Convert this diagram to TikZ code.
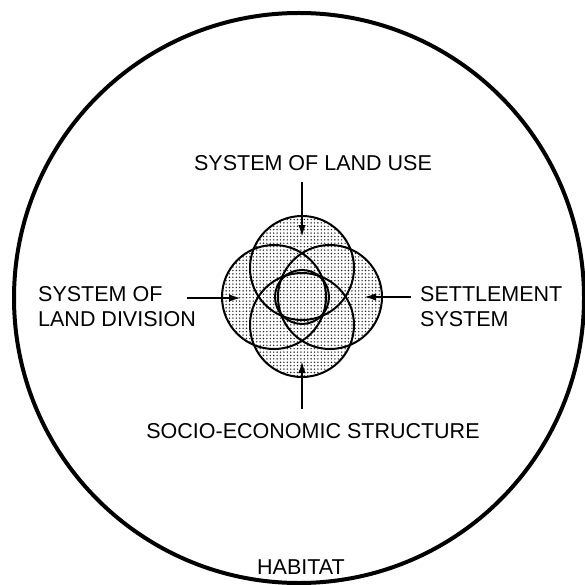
\documentclass[tikz,border=0pt]{standalone}
\usepackage{fontspec}
\setmainfont{Liberation Sans}
\usetikzlibrary{arrows.meta,patterns.meta}
\tikzdeclarepattern{name=stipple, type=uncolored,
  bottom left={(-.1pt,-.1pt)}, top right={(3.4pt,3.4pt)}, tile size={(3.4pt,3.4pt)},
  code={\fill (1.7pt,1.7pt) circle[radius=0.8pt];}}
\begin{document}
\begin{tikzpicture}[x=1pt,y=-1pt,
  lbl/.style={inner sep=0pt,font=\fontsize{21.5}{25}\selectfont},
  ring/.style={line width=2pt},
  stip/.style={pattern=stipple,pattern color=black!85},
  arr/.style={line width=2pt,-{Latex[length=12pt,width=7.5pt]}}]
\useasboundingbox (0,0) rectangle (584,585);
% habitat
\node[draw,circle,line width=4pt,minimum size=570pt,inner sep=0pt] (habitat) at (299,298) {};
\node[lbl,anchor=base] (habtxt) at (301,574) {HABITAT};
% flower
\foreach \n/\x/\y/\r in {ct/302/268/52,cb/302/325/52,cl/274/297/52,cr/330/297/52,cc/302/297/27}{
  \fill[white] (\x,\y) circle[radius=\r];
  \fill[stip] (\x,\y) circle[radius=\r];
}
\foreach \n/\x/\y/\r in {ct/302/268/52,cb/302/325/52,cl/274/297/52,cr/330/297/52,cc/302/297/27}{
  \node[draw,ring,circle,minimum size=2*\r pt,inner sep=0pt] (\n) at (\x,\y) {};
}
% labels
\node[lbl,anchor=base] (landuse) at (313,171) {SYSTEM OF LAND USE};
\node[lbl,anchor=base west] (divA) at (38,301) {SYSTEM OF};
\node[lbl,anchor=base west] (divB) at (38,326) {LAND DIVISION};
\node[lbl,anchor=base west] (setA) at (420,301) {SETTLEMENT};
\node[lbl,anchor=base west] (setB) at (420,326) {SYSTEM};
\node[lbl,anchor=base] (socio) at (313,438) {SOCIO-ECONOMIC STRUCTURE};
% arrow ends
\coordinate (tS) at (302,182); \coordinate (tE) at (302,237);
\coordinate (lS) at (187,298); \coordinate (lE) at (241,298);
\coordinate (rS) at (411,297); \coordinate (rE) at (364,297);
\coordinate (bS) at (302,409); \coordinate (bE) at (302,361);
\draw[arr] (tS) -- (tE);
\draw[arr] (lS) -- (lE);
\draw[arr] (rS) -- (rE);
\draw[arr] (bS) -- (bE);
\end{tikzpicture}
\end{document}
